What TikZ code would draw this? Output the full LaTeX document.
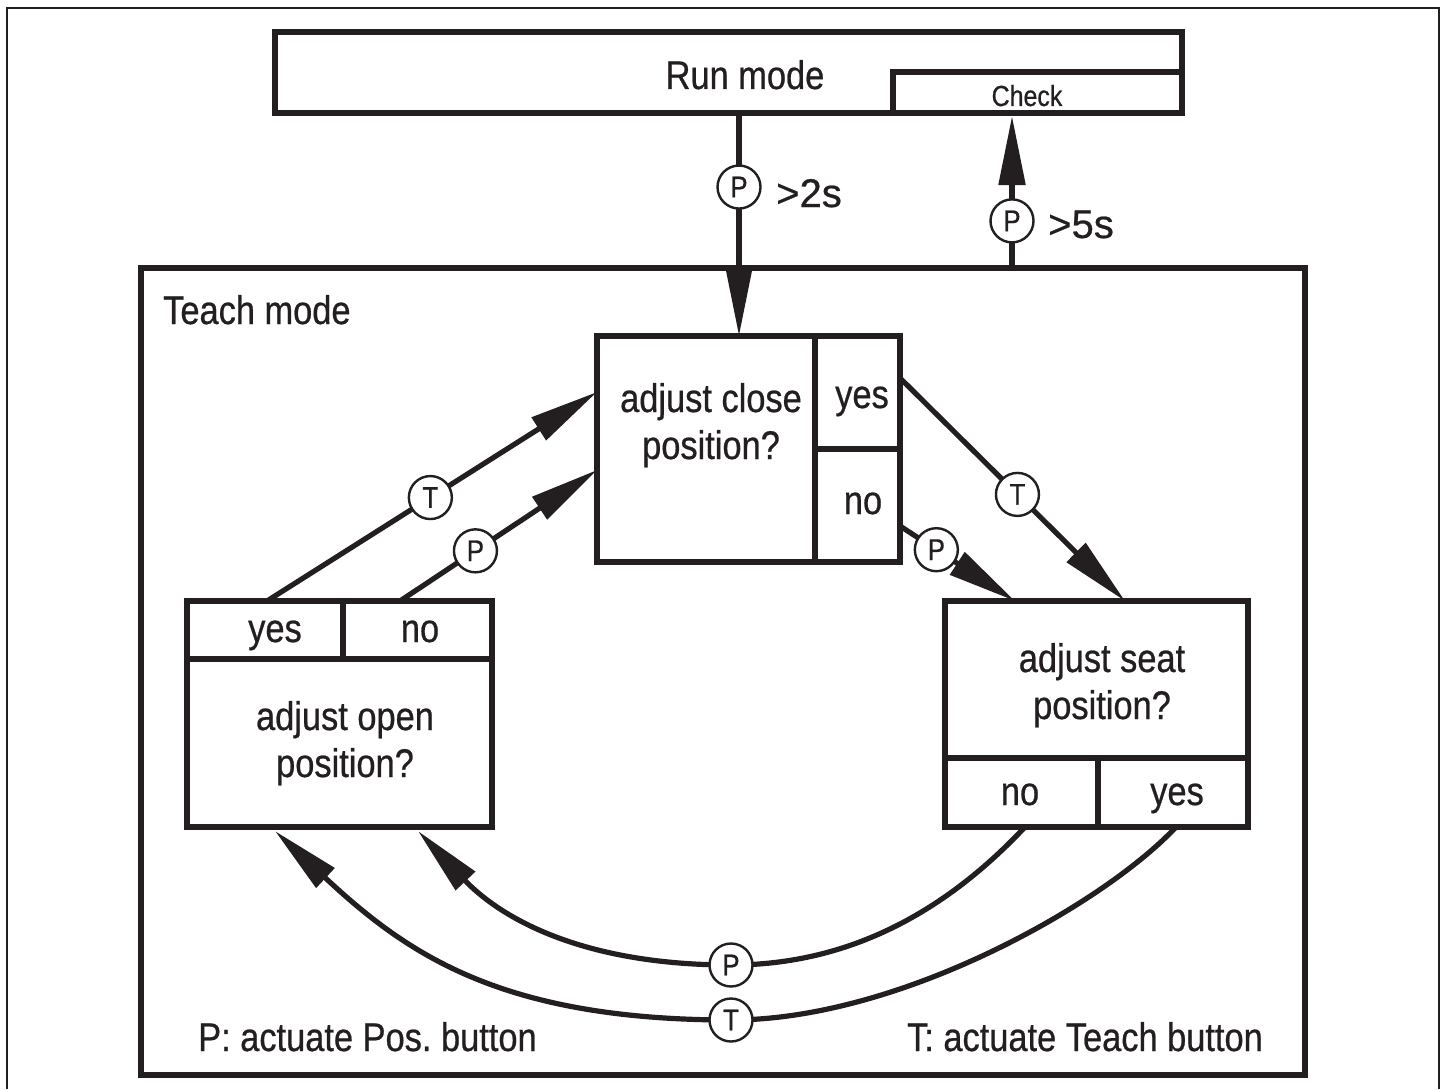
\documentclass[tikz,border=0pt]{standalone}
\usepackage{fontspec}
\setmainfont{Liberation Sans}[FakeStretch=0.86,FakeBold=0.6]
\newfontfamily\plainsans{Liberation Sans}[FakeBold=0.6]
\usetikzlibrary{arrows.meta,calc}
\definecolor{ink}{RGB}{35,31,32}
\frenchspacing
\begin{document}
\begin{tikzpicture}[x=1pt,y=-1pt,
  box/.style={draw=ink, line width=5.2pt, rectangle, inner sep=0pt, outer sep=0pt},
  conn/.style={draw=ink, line width=5.2pt, -{Triangle[length=69pt,width=26pt]}},
  btn/.style={circle, draw=ink, line width=2.4pt, fill=white, minimum size=43pt, inner sep=0pt,
              text=ink, font=\fontsize{30}{32}\selectfont},
  txt/.style={inner sep=0pt, text=ink, font=\fontsize{40}{47}\selectfont},
  tim/.style={inner sep=0pt, text=ink, font=\plainsans\fontsize{40}{47}\selectfont},
  small/.style={inner sep=0pt, text=ink, font=\fontsize{29}{32}\selectfont}]
\useasboundingbox (0,0) rectangle (1447,1089);
\fill[white] (0,0) rectangle (1447,1089);
% outer frame
\draw[ink, line width=2.6pt] (7,1089) -- (7,8) -- (1439,8) -- (1439,1089);
% run mode
\node[box, minimum width=907pt, minimum height=81pt] (run) at (728.5,72.5) {};
\node[box, minimum width=289pt, minimum height=41pt] (check) at (1037.5,92.5) {};
\node[txt, anchor=base] (runlbl) at (745,89) {Run mode};
\node[small, anchor=base] (checklbl) at (1027,106) {Check};
% teach mode
\node[box, minimum width=1164pt, minimum height=807pt] (teach) at (723,671.5) {};
\node[txt, anchor=base west] (teachlbl) at (163,324) {Teach mode};
% close box
\node[box, minimum width=218pt, minimum height=226pt] (closemain) at (706,449) {};
\node[box, minimum width=85pt, minimum height=113pt] (closeyes) at (857.5,392.5) {};
\node[box, minimum width=85pt, minimum height=113pt] (closeno) at (857.5,505.5) {};
\node[txt, anchor=base] (cl1) at (711,412) {adjust close};
\node[txt, anchor=base] (cl2) at (711,459) {position?};
\node[txt, anchor=base] (clyes) at (862,408) {yes};
\node[txt, anchor=base] (clno) at (863,514) {no};
% open box
\node[box, minimum width=156pt, minimum height=58pt] (openyes) at (265,630) {};
\node[box, minimum width=149pt, minimum height=58pt] (openno) at (417.5,630) {};
\node[box, minimum width=305pt, minimum height=168pt] (openmain) at (339.5,743) {};
\node[txt, anchor=base] (opyes) at (275,642) {yes};
\node[txt, anchor=base] (opno) at (420,642) {no};
\node[txt, anchor=base] (op1) at (345,730) {adjust open};
\node[txt, anchor=base] (op2) at (345,777) {position?};
% seat box
\node[box, minimum width=303pt, minimum height=157pt] (seatmain) at (1096.5,679.5) {};
\node[box, minimum width=153pt, minimum height=69pt] (seatno) at (1021.5,792.5) {};
\node[box, minimum width=150pt, minimum height=69pt] (seatyes) at (1173,792.5) {};
\node[txt, anchor=base] (se1) at (1102,672) {adjust seat};
\node[txt, anchor=base] (se2) at (1102,719) {position?};
\node[txt, anchor=base] (seno) at (1020,805) {no};
\node[txt, anchor=base] (seyes) at (1177,805) {yes};
% connectors top
\draw[conn] ([xshift=10.5pt]run.south) -- node[btn,pos=0.332] (b1) {P} ([xshift=33pt]closemain.north);
\node[tim, anchor=base west] (l2s) at (776,207) {>2s};
\draw[conn] ([xshift=289pt]teach.north) -- node[btn,pos=0.31] (b2) {P} ([xshift=-25.5pt,yshift=-3pt]check.south);
\node[tim, anchor=base west] (l5s) at (1048,238) {>5s};
% left connectors
\draw[conn] ([xshift=2pt]openyes.north) -- node[btn,pos=0.495] (b3) {T} ([yshift=57pt]closemain.west);
\draw[conn] ([xshift=-17.5pt]openno.north) -- node[btn,pos=0.383] (b4) {P} ([yshift=-21pt]closemain.west);
% right connectors
\draw[conn] ([yshift=14.5pt]closeyes.east) -- node[btn,pos=0.522] (b5) {T} ([xshift=28.5pt]seatmain.north);
\draw[conn] ([yshift=-20.5pt]closeno.east) -- node[btn,pos=0.316] (b6) {P} ([xshift=-81.5pt]seatmain.north);
% bottom curves
\draw[conn] ([xshift=3.5pt]seatno.south) .. controls (947,910) and (851,965) .. (731,965) coordinate (pm)
  .. controls (571,965) and (494,911) .. ([xshift=78.5pt,yshift=-4pt]openmain.south);
\draw[conn] ([xshift=3pt]seatyes.south) .. controls (1105,903) and (901,1020) .. (731,1020) coordinate (tm)
  .. controls (501,1020) and (407,954) .. ([xshift=-64.5pt,yshift=-4pt]openmain.south);
\node[btn] (b7) at (pm) {P};
\node[btn] (b8) at (tm) {T};
% legends
\node[txt, anchor=base west] (legp) at (198,1051) {P: actuate Pos. button};
\node[txt, anchor=base east] (legt) at (1263,1051) {T: actuate Teach button};
\end{tikzpicture}
\end{document}
